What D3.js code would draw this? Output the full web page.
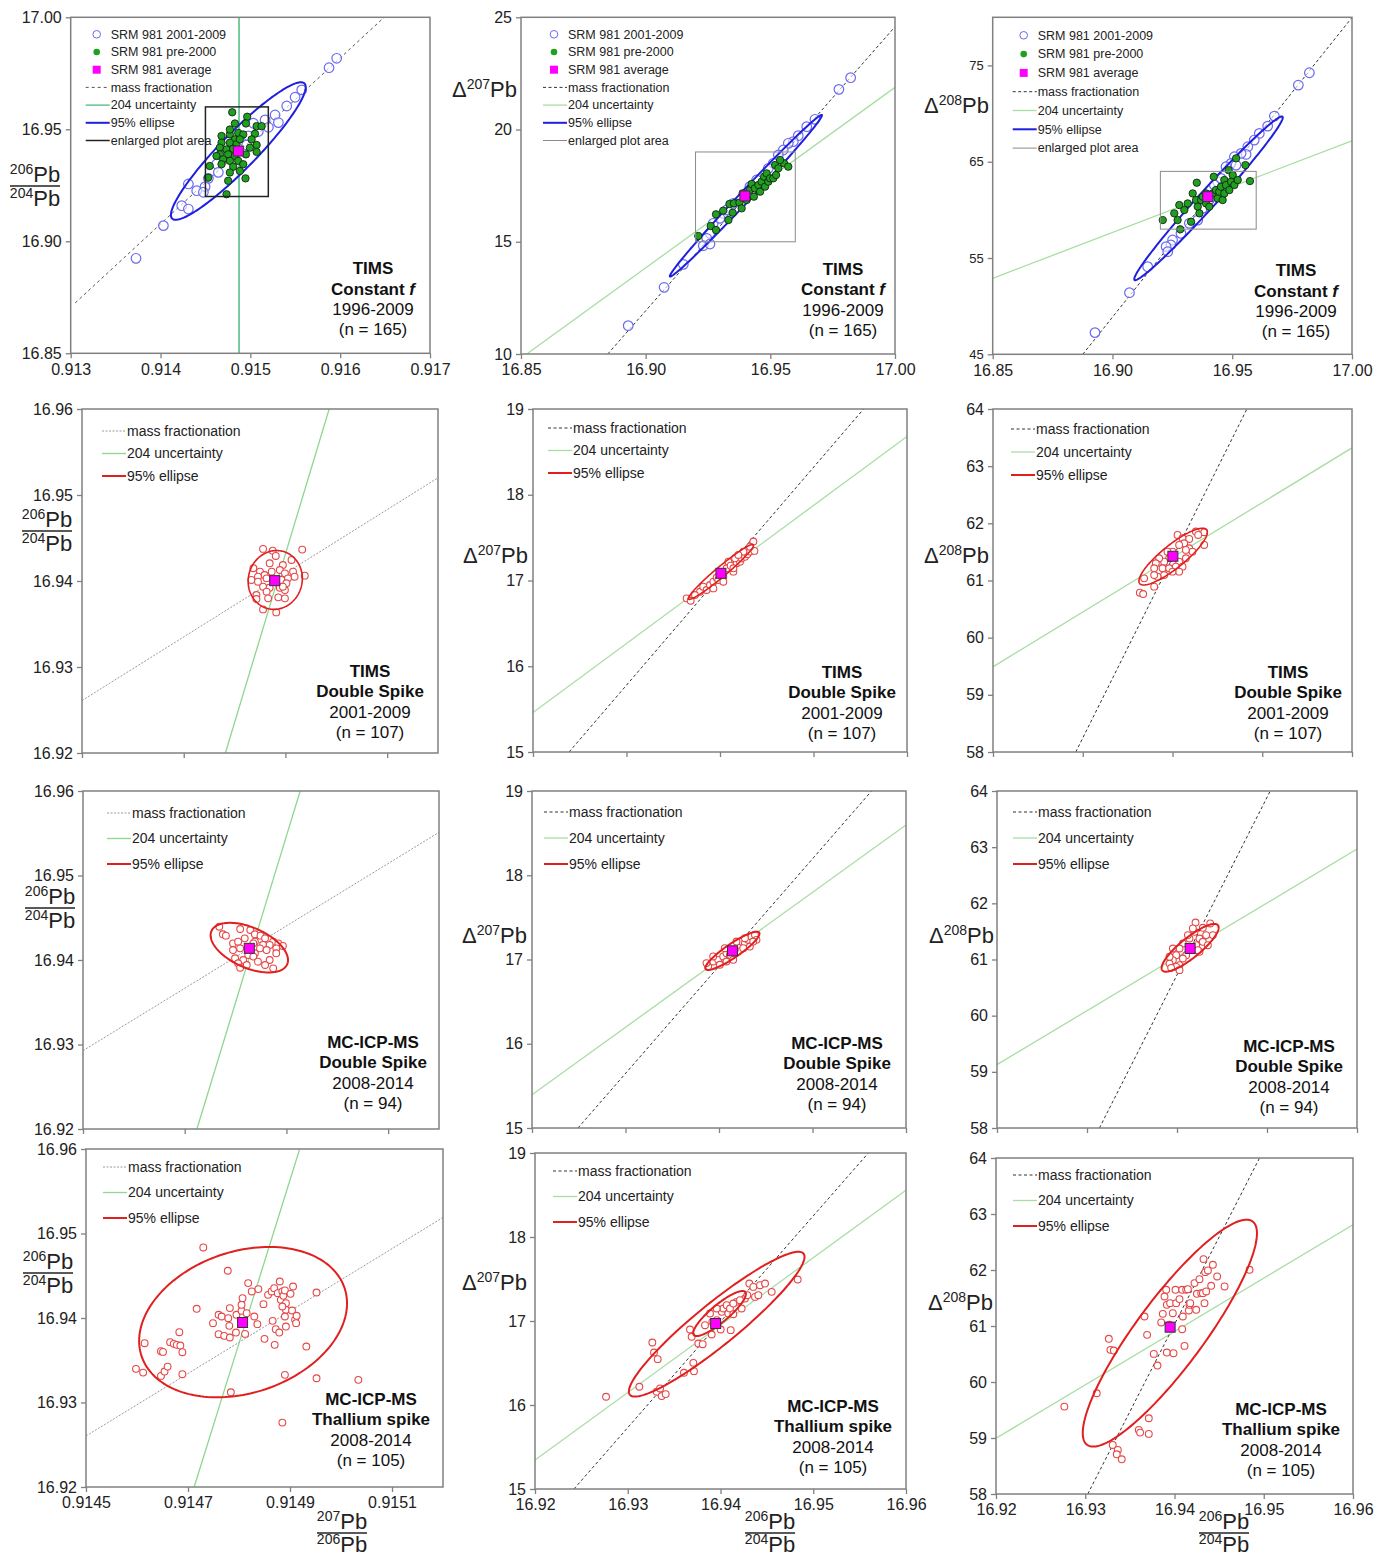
<!DOCTYPE html>
<html>
<head>
<meta charset="utf-8">
<title>SRM 981 Pb isotope panels</title>
<script src="https://d3js.org/d3.v7.min.js"></script>
<style>
    body { margin: 0; background: #fff; }
    svg { font-family: "Liberation Sans", Arial, sans-serif; }
    .frame { fill: none; stroke: #808080; stroke-width: 1.5px; }
</style>
</head>
<body>
<script>
    // ---------- axis domains and ticks ----------
    var ratioDomainTop = [0.913, 0.917], pb64DomainTop = [16.85, 17.00];
    var d207DomainTop = [10, 25], d208DomainTop = [45, 80];
    var ratioDomain = [0.9145, 0.9152], pb64Domain = [16.92, 16.96];
    var d207Domain = [15, 19], d208Domain = [58, 64];

    var ratioTicksTop = [0.913, 0.914, 0.915, 0.916, 0.917];
    var pb64TicksTop = [16.85, 16.90, 16.95, 17.00];
    var d207TicksTop = [10, 15, 20, 25];
    var d208TicksTop = [45, 55, 65, 75];
    var ratioTicks = [0.9145, 0.9147, 0.9149, 0.9151];
    var pb64Ticks = [16.92, 16.93, 16.94, 16.95, 16.96];
    var d207Ticks = [15, 16, 17, 18, 19];
    var d208Ticks = [58, 59, 60, 61, 62, 63, 64];

    // ---------- text ----------
    var legendTop = ["SRM 981 2001-2009", "SRM 981 pre-2000", "SRM 981 average", "mass fractionation",
        "204 uncertainty", "95% ellipse", "enlarged plot area"];
    var legendZoom = ["mass fractionation", "204 uncertainty", "95% ellipse"];
    var methods = [
        ["TIMS", "Constant ", "1996-2009", "(n = 165)"],
        ["TIMS", "Double Spike", "2001-2009", "(n = 107)"],
        ["MC-ICP-MS", "Double Spike", "2008-2014", "(n = 94)"],
        ["MC-ICP-MS", "Thallium spike", "2008-2014", "(n = 105)"]
    ];

    // ---------- row 1: TIMS constant f ----------
    var p1Blue = [[0.915961,16.9817],[0.915876,16.9775],[0.915572,16.9676],[0.915498,16.9643],[0.915405,16.9604],
        [0.915275,16.9564],[0.915312,16.953],[0.915164,16.9542],[0.915201,16.9509],[0.915034,16.9527],[0.914978,16.947],
        [0.914959,16.943],[0.914625,16.9345],[0.914644,16.9308],[0.914533,16.9281],[0.914496,16.9244],[0.914403,16.9226],
        [0.914477,16.9219],[0.91431,16.9256],[0.914236,16.9159],[0.91431,16.9144],[0.914032,16.907],[0.913727,16.8924],
        [0.914737,16.9378],[0.914811,16.9415],[0.915089,16.949]];
    var p1Green = [[0.914798,16.9576],[0.914965,16.9556],[0.914828,16.9526],[0.914951,16.9526],[0.91507,16.9514],
        [0.915125,16.9514],[0.914679,16.947],[0.914772,16.9477],[0.914865,16.9484],[0.914828,16.9455],[0.914921,16.9477],
        [0.915051,16.948],[0.915014,16.9455],[0.914679,16.944],[0.914772,16.944],[0.914846,16.9433],[0.91507,16.943],
        [0.91466,16.9418],[0.914735,16.941],[0.914809,16.9413],[0.914995,16.9418],[0.91507,16.9399],[0.91466,16.9388],
        [0.914753,16.9388],[0.914828,16.9381],[0.914951,16.9388],[0.914697,16.9366],[0.914772,16.9359],[0.914865,16.9359],
        [0.914921,16.9344],[0.914548,16.9336],[0.914679,16.9344],[0.914809,16.9333],[0.914772,16.9307],[0.914883,16.9314],
        [0.91453,16.9284],[0.914753,16.927],[0.914946,16.9281],[0.914735,16.921],[0.914772,16.9499],[0.914883,16.9455],
        [0.914623,16.9381]];
    var p2Blue = [[16.9822,22.31],[16.9775,21.79],[16.9679,20.455],[16.9646,20.128],[16.9612,19.727],[16.9592,19.46],
        [16.9572,19.386],[16.9552,19.089],[16.9532,18.866],[16.9512,18.495],[16.9492,18.272],[16.9445,17.752],
        [16.9418,17.455],[16.9352,16.712],[16.9312,16.267],[16.9271,15.822],[16.9258,15.376],[16.9245,15.153],
        [16.9231,14.826],[16.9258,14.901],[16.9151,13.995],[16.9074,12.97],[16.893,11.262],[16.9298,16.044],
        [16.9325,16.416]];
    var p2Green = [[16.9211,15.257],[16.9261,15.703],[16.9282,16.223],[16.9282,15.525],[16.9311,16.386],[16.9332,15.97],
        [16.9336,16.683],[16.9349,16.297],[16.9354,16.713],[16.9376,16.742],[16.9385,16.49],[16.9389,17.158],
        [16.9405,16.861],[16.9418,17.307],[16.9425,17.574],[16.9434,17.01],[16.9438,17.381],[16.9452,17.529],
        [16.9459,17.232],[16.9465,17.678],[16.9475,17.901],[16.9485,18.049],[16.9479,17.455],[16.9492,17.678],
        [16.9499,17.827],[16.9512,17.827],[16.9523,17.975],[16.9519,18.421],[16.9532,18.272],[16.9555,18.495],
        [16.9572,18.346],[16.9539,18.643]];
    var p3Blue = [[16.9822,74.24],[16.9776,72.96],[16.9676,69.74],[16.9648,68.7],[16.9613,67.94],[16.9592,67.25],
        [16.9565,66.56],[16.9558,65.76],[16.9537,65.87],[16.9509,65.52],[16.9495,64.83],[16.9516,64.65],[16.9474,64.48],
        [16.9439,62.92],[16.9453,63.27],[16.9425,62.58],[16.9356,58.94],[16.9321,58.6],[16.9286,57.56],[16.9251,56.87],
        [16.9244,56.35],[16.9224,56.18],[16.9231,55.66],[16.9147,54.1],[16.9071,51.4],[16.8927,47.25],[16.9377,60.16],
        [16.9404,61.02]];
    var p3Green = [[16.921,58.94],[16.9258,59.64],[16.9272,58.94],[16.9283,57.98],[16.9279,60.5],[16.93,59.98],
        [16.9314,60.67],[16.9335,61.71],[16.9352,62.82],[16.9349,61.02],[16.9356,60.33],[16.937,61.02],[16.9363,59.64],
        [16.9377,61.37],[16.9391,60.67],[16.9404,60.33],[16.9418,61.71],[16.9423,63.44],[16.9432,62.06],[16.9439,61.19],
        [16.9446,61.89],[16.9453,62.4],[16.946,61.02],[16.9467,61.71],[16.9467,63.1],[16.9474,62.58],[16.9485,64.13],
        [16.9488,62.06],[16.9495,62.92],[16.9502,63.62],[16.9509,62.58],[16.9516,65.35],[16.9523,63.1],[16.9555,64.65],
        [16.9574,62.99],[16.9328,58.77],[16.9391,61.71]];

    // ---------- rows 2-4: enlarged plot areas ----------
    var p4Pts = [[0.914856,16.94373],[0.914875,16.94353],[0.914881,16.94291],[0.914933,16.94365],[0.914869,16.94206],
        [0.914895,16.94186],[0.914912,16.94245],[0.914837,16.94148],[0.91485,16.94109],[0.914859,16.9407],
        [0.914873,16.94109],[0.914889,16.94128],[0.914899,16.94089],[0.914915,16.94109],[0.914918,16.9405],
        [0.914938,16.94062],[0.914833,16.94012],[0.914846,16.9405],[0.914863,16.94031],[0.914892,16.94012],
        [0.914905,16.94031],[0.914902,16.93973],[0.914856,16.93934],[0.914869,16.93922],[0.914889,16.93922],
        [0.914899,16.93895],[0.914863,16.93876],[0.914843,16.93837],[0.914843,16.9379],[0.914866,16.93798],
        [0.914886,16.9381],[0.914899,16.93798],[0.914856,16.9367],[0.914882,16.93635],[0.914895,16.93934],
        [0.914846,16.93992]];
    var p5Pts = [[16.93643,16.792],[16.93686,16.764],[16.93786,16.869],[16.93821,16.928],[16.93857,16.889],
        [16.93893,16.947],[16.93929,16.986],[16.93964,17.033],[16.93982,17.006],[16.94036,17.045],[16.94071,17.142],
        [16.94089,17.22],[16.94114,17.173],[16.94143,17.103],[16.94179,17.201],[16.94214,17.22],[16.94232,17.259],
        [16.94268,17.278],[16.94293,17.306],[16.94321,17.337],[16.94357,17.454],[16.94368,17.345],[16.94321,17.395],
        [16.9425,17.337],[16.94161,17.259],[16.94036,16.986],[16.93929,16.908],[16.93732,16.831],[16.94143,17.142],
        [16.94196,17.298]];
    var p6Pts = [[16.94056,61.797],[16.94112,61.739],[16.9426,61.856],[16.94353,61.844],[16.94286,61.797],
        [16.94186,61.727],[16.9413,61.651],[16.94074,61.622],[16.94186,61.564],[16.94223,61.505],[16.94149,61.389],
        [16.94074,61.33],[16.94,61.505],[16.93963,61.389],[16.93907,61.33],[16.93851,61.389],[16.93814,61.301],
        [16.93796,61.213],[16.93889,61.213],[16.93963,61.213],[16.94037,61.242],[16.94112,61.242],[16.94074,61.155],
        [16.94,61.155],[16.93907,61.096],[16.93833,61.067],[16.93796,61.096],[16.93684,61.038],[16.93796,60.892],
        [16.93636,60.787],[16.93673,60.763],[16.94353,61.622],[16.94149,61.535],[16.93944,61.505]];
    var p7Pts = [[0.914768,16.94394],[0.914775,16.94304],[0.914781,16.94288],[0.914809,16.94367],[0.914829,16.94355],
        [0.914838,16.94304],[0.914849,16.94288],[0.914858,16.94256],[0.914874,16.94217],[0.914884,16.94197],
        [0.914893,16.94166],[0.914795,16.94197],[0.914805,16.94217],[0.914818,16.94256],[0.914838,16.94217],
        [0.914854,16.94178],[0.914867,16.94178],[0.914795,16.94118],[0.914809,16.94138],[0.914825,16.94059],
        [0.914838,16.94079],[0.914848,16.94138],[0.914861,16.94118],[0.91488,16.94138],[0.91488,16.94079],
        [0.914799,16.9402],[0.914815,16.94],[0.914835,16.9404],[0.914805,16.93961],[0.914822,16.93941],
        [0.914844,16.9398],[0.914867,16.94],[0.914858,16.93941],[0.914874,16.93901],[0.914809,16.93909],
        [0.914835,16.94197]];
    var p8Pts = [[16.93884,16.917],[16.93938,16.976],[16.93991,16.996],[16.94045,17.036],[16.9408,17.075],
        [16.94116,17.055],[16.94169,17.115],[16.94205,17.174],[16.94241,17.213],[16.94277,17.194],[16.94312,17.233],
        [16.94348,17.273],[16.94384,17.293],[16.94401,17.233],[16.9433,17.154],[16.94259,17.134],[16.94187,17.213],
        [16.94152,16.996],[16.93938,17.036],[16.93866,16.957],[16.94009,16.937],[16.9408,16.976],[16.94277,17.253],
        [16.94366,17.213],[16.94062,17.134]];
    var p9Pts = [[16.94206,61.659],[16.94369,61.642],[16.94287,61.564],[16.94195,61.493],[16.94324,61.434],
        [16.94399,61.434],[16.9425,61.374],[16.94139,61.374],[16.94287,61.315],[16.94343,61.255],[16.94065,61.285],
        [16.94213,61.255],[16.94028,61.196],[16.93954,61.196],[16.9425,61.137],[16.94102,61.077],[16.93991,61.077],
        [16.94065,61.018],[16.93954,60.988],[16.93917,60.929],[16.94028,60.899],[16.93991,60.869],[16.93935,60.851],
        [16.94028,60.81],[16.94176,61.553],[16.94121,61.434],[16.94232,61.166],[16.93917,61.048]];
    var p10Pts = [[0.914598,16.93398],[0.914612,16.93354],[0.914615,16.93702],[0.914647,16.93607],[0.914651,16.93599],
        [0.914647,16.93315],[0.914654,16.93366],[0.91466,16.93425],[0.914665,16.93714],[0.914672,16.93694],
        [0.914678,16.93682],[0.914683,16.93832],[0.914685,16.93674],[0.914689,16.93595],[0.914689,16.93335],
        [0.914717,16.94109],[0.91473,16.94835],[0.914749,16.93939],[0.91476,16.94038],[0.91476,16.93808],
        [0.914766,16.94018],[0.914771,16.93789],[0.914778,16.94559],[0.914782,16.94117],[0.914779,16.93998],
        [0.914781,16.93907],[0.914782,16.93769],[0.914784,16.93121],[0.914794,16.93828],[0.914795,16.94038],
        [0.914805,16.94085],[0.914805,16.94156],[0.914807,16.94235],[0.914812,16.93812],[0.914815,16.94057],
        [0.914818,16.94413],[0.914825,16.94314],[0.91483,16.94018],[0.914836,16.93927],[0.914838,16.94342],
        [0.914848,16.94164],[0.91485,16.93753],[0.914857,16.94274],[0.914864,16.94314],[0.914869,16.94353],
        [0.914866,16.93966],[0.91487,16.93682],[0.914872,16.93868],[0.914876,16.94294],[0.914879,16.93828],
        [0.914882,16.94215],[0.914885,16.94314],[0.914887,16.94263],[0.91489,16.94326],[0.914892,16.94176],
        [0.914892,16.94097],[0.91489,16.94018],[0.914892,16.93899],[0.91489,16.93327],[0.914901,16.94286],
        [0.914904,16.94089],[0.914906,16.94373],[0.91491,16.93978],[0.914912,16.93939],[0.914913,16.94026],
        [0.914932,16.93662],[0.914952,16.94302],[0.914952,16.93287],[0.914885,16.92762],[0.915034,16.93268],
        [0.91488,16.94432],[0.914885,16.94136]];
    var p11Pts = [[16.92766,16.098],[16.93125,16.217],[16.93265,16.744],[16.93283,16.625],[16.93323,16.546],
        [16.93312,16.158],[16.93348,16.197],[16.93366,16.106],[16.93409,16.13],[16.93606,16.384],[16.93671,16.899],
        [16.93689,16.812],[16.93707,16.502],[16.93714,16.403],[16.93761,16.732],[16.93808,16.724],[16.93833,16.95],
        [16.93905,16.839],[16.93912,16.99],[16.93959,17.01],[16.94002,16.899],[16.94013,17.109],[16.94031,17.149],
        [16.94067,17.188],[16.94084,17.089],[16.94102,17.149],[16.94138,17.081],[16.9411,16.891],[16.94174,17.228],
        [16.94228,17.149],[16.94264,17.268],[16.94289,17.307],[16.94311,17.446],[16.94354,17.406],[16.94372,17.287],
        [16.94408,17.307],[16.94426,17.426],[16.9448,17.446],[16.94552,17.347],[16.94832,17.494],[16.93959,17.149],
        [16.93887,17.089],[16.94138,17.208],[16.9421,17.248]];
    var p12Pts = [[16.92766,59.561],[16.93129,59.799],[16.93264,60.771],[16.93282,60.574],[16.9332,60.562],
        [16.93308,58.876],[16.93365,58.787],[16.93353,58.709],[16.93409,58.62],[16.936,59.144],[16.93615,59.096],
        [16.93664,61.17],[16.93693,60.842],[16.93712,59.353],[16.93712,59.073],[16.93768,60.502],[16.93809,60.294],
        [16.93851,61.063],[16.93869,61.217],[16.93907,61.646],[16.93914,61.378],[16.93914,60.526],[16.93951,61.408],
        [16.93981,61.229],[16.93989,60.514],[16.94011,61.646],[16.94019,61.408],[16.94056,61.48],[16.94086,61.646],
        [16.94086,60.943],[16.94112,60.645],[16.94131,61.646],[16.9415,61.658],[16.94161,61.277],[16.94168,61.378],
        [16.94176,61.408],[16.94224,61.766],[16.94243,61.289],[16.94251,61.575],[16.9428,61.837],[16.94299,61.587],
        [16.94318,61.587],[16.94325,62.195],[16.94336,61.408],[16.94344,61.962],[16.94355,61.617],[16.94374,61.992],
        [16.94411,61.718],[16.9443,62.093],[16.94478,61.885],[16.94561,61.706],[16.94841,62.004],[16.93944,61.021],
        [16.93888,61.527],[16.94093,61.17]];

    // SRM 981 averages, one per panel
    var averages = [[0.914866,16.9403],[16.9398,17.04],[16.9398,61.37],[0.914879,16.94004],[16.9401,17.084],
        [16.94004,61.424],[0.914827,16.94138],[16.94144,17.103],[16.94146,61.196],[0.914807,16.93947],
        [16.93948,16.97],[16.93951,60.979]];
    // 95% ellipses: [cx, cy, sx, sy, rho]
    var ellipses = [[[0.914866,16.9403,0.00075,0.0307,0.93]], [[16.9402,17.05,0.0305,3.6,0.995]],
        [[16.9401,61.2,0.031,8.5,0.987]], [[0.91488,16.94012,0.0000533,0.00342,0.05]],
        [[16.9401,17.1,0.00348,0.32,0.97]], [[16.94007,61.418,0.00381,0.497,0.86]],
        [[0.914827,16.94146,0.0000761,0.00294,-0.5]], [[16.94144,17.103,0.00289,0.227,0.9]],
        [[16.94146,61.208,0.00317,0.425,0.85]], [[0.914808,16.93951,0.0002038,0.0089,0.25]],
        [[16.93959,16.962,0.00947,0.862,0.93],[16.9399,17.089,0.00284,0.268,0.87]],
        [[16.93948,60.872,0.00976,2.026,0.88]]];
    // mass fractionation lines, two points each
    var massLines = [[[0.91305,16.8725],[0.91649,17.0]], [[16.8848,10],[17.0,24.58]], [[16.8876,45],[17.0,79.98]],
        [[0.9145,16.9261],[0.9152,16.952]], [[16.92386,15],[16.95536,19]], [[16.92922,58],[16.94829,64]],
        [[0.9145,16.92927],[0.9152,16.95511]], [[16.92492,15],[16.95632,19]], [[16.93138,58],[16.95036,64]],
        [[0.9145,16.92604],[0.9152,16.9519]], [[16.9242,15],[16.95594,19]], [[16.93028,58],[16.94953,64]]];
    // 204 uncertainty lines, two points each
    var uncLines = [[[0.914874,16.85],[0.914874,17.0]], [[16.8523,10],[17.0,21.88]], [[16.85,52.89],[17.0,67.18]],
        [[0.914782,16.92],[0.914986,16.96]], [[16.92,15.46],[16.96,18.68]], [[16.92,59.49],[16.96,63.32]],
        [[0.914724,16.92],[0.914927,16.96]], [[16.92,15.395],[16.96,18.597]], [[16.92,59.129],[16.96,62.966]],
        [[0.914712,16.92],[0.914919,16.96]], [[16.92,15.345],[16.96,18.556]], [[16.92,58.995],[16.96,62.808]]];

    // ---------- layout ----------
    var boxes = [[70.7,17.3,430,353.3],[521,17.3,895,354],[992.7,17.3,1352,354.3],
        [82,409,438,753],[533,409,907,752],[993,409,1352,752],
        [83,791,439,1129],[532,791,906,1128],[997,791,1357,1128],
        [86,1149,443,1487],[535,1153,906,1489],[996,1158,1353,1494]];
    // legend: [line start dx, first row dy, row spacing]
    var legendPos = [[15,17,17.7],[22,17,17.7],[20,18,18.8],[20,22,22.5],[15,19,22.5],[18,20,23],
        [24,22,25.5],[12,21,26],[16,21,26],[17,18,25.5],[18,18,25.5],[17,17,25.5]];
    var noteOffset = [[-57,-85],[-52,-85],[-56,-84],[-68,-82],[-65,-80],[-64,-80],[-66,-87],[-69,-85],
        [-68,-82],[-72,-88],[-73,-83],[-72,-85]];
    var yLabelPos = [[35,186],[517,97],[989,113],[47,531],[528,563],[989,563],[50,908],[527,943],[994,943],
        [48,1273],[527,1290],[993,1310]];
    var xLabelPos = [[342,1533],[770,1533],[1224,1533]];

    var cols = [
        {top: [ratioDomainTop, pb64DomainTop, ratioTicksTop, pb64TicksTop, ".3f", ".2f"],
         zoom: [ratioDomain, pb64Domain, ratioTicks, pb64Ticks, ".4f", ".2f"], yl: "frac", yNum: "206", yDen: "204"},
        {top: [pb64DomainTop, d207DomainTop, pb64TicksTop, d207TicksTop, ".2f", "d"],
         zoom: [pb64Domain, d207Domain, pb64Ticks, d207Ticks, ".2f", "d"], yl: "delta", yIso: "207"},
        {top: [pb64DomainTop, d208DomainTop, pb64TicksTop, d208TicksTop, ".2f", "d"],
         zoom: [pb64Domain, d208Domain, pb64Ticks, d208Ticks, ".2f", "d"], yl: "delta", yIso: "208"}
    ];
    var zoomPts = [p4Pts, p5Pts, p6Pts, p7Pts, p8Pts, p9Pts, p10Pts, p11Pts, p12Pts];
    var topPts = [[p1Blue, p1Green], [p2Blue, p2Green], [p3Blue, p3Green]];

    var svg = d3.select("body").append("svg")
        .attr("width", 1376)
        .attr("height", 1562);
    svg.append("rect").attr("width", 1376).attr("height", 1562).attr("fill", "#fff");
    var defs = svg.append("defs");

    function ellipsePoints(e) {
        return d3.range(0, 361, 2).map(function(a) {
            var t = a * Math.PI / 180;
            return [e[0] + e[2] * Math.cos(t),
                    e[1] + e[3] * (e[4] * Math.cos(t) + Math.sqrt(1 - e[4] * e[4]) * Math.sin(t))];
        });
    }

    function drawFraction(g, cx, ly, num, den, gap) {
        g.append("line").attr("x1", cx - 25).attr("x2", cx + 25).attr("y1", ly).attr("y2", ly)
            .attr("stroke", "#222").attr("stroke-width", 1.5);
        [[num, ly - 4], [den, ly + (gap || 20)]].forEach(function(p) {
            var t = g.append("text").attr("x", cx).attr("y", p[1]).attr("text-anchor", "middle").attr("fill", "#222");
            t.append("tspan").attr("font-size", 14).attr("dy", -8).text(p[0]);
            t.append("tspan").attr("font-size", 22).attr("dy", 8).text("Pb");
        });
    }

    function drawDelta(g, x, y, iso) {
        var t = g.append("text").attr("x", x).attr("y", y).attr("text-anchor", "end").attr("fill", "#222");
        t.append("tspan").attr("font-size", 22).text("\u0394");
        t.append("tspan").attr("font-size", 14).attr("dy", -8).text(iso);
        t.append("tspan").attr("font-size", 22).attr("dy", 8).text("Pb");
    }

    d3.range(12).forEach(function(i) {
        var row = Math.floor(i / 3), col = i % 3, c = cols[col];
        var isTop = row === 0;
        var spec = isTop ? c.top : c.zoom;
        var L = boxes[i][0], T = boxes[i][1], R = boxes[i][2], B = boxes[i][3];
        var x = d3.scaleLinear().domain(spec[0]).range([L, R]);
        var y = d3.scaleLinear().domain(spec[1]).range([B, T]);
        var g = svg.append("g");

        defs.append("clipPath").attr("id", "clip" + i)
            .append("rect").attr("x", L).attr("y", T).attr("width", R - L).attr("height", B - T);
        var plot = g.append("g").attr("clip-path", "url(#clip" + i + ")");
        var line = d3.line().x(function(d) { return x(d[0]); }).y(function(d) { return y(d[1]); });

        // line styles
        var massStyle = (col === 0 && !isTop) ? {c: "#9a9a9a", d: "2,1.5"} :
                        (i === 0 ? {c: "#555", d: "3,3"} : {c: "#333", d: "3,2.5"});
        var uncColor = i === 0 ? "#4cbb7f" : (col === 0 ? "#8fd68f" : "#a8dea2");
        var ellColor = isTop ? "#1f1fe0" : "#e01f1f";
        var ellWidth = row === 1 ? 1.6 : 2;

        plot.append("path").attr("d", line(uncLines[i])).attr("fill", "none")
            .attr("stroke", uncColor).attr("stroke-width", i === 0 ? 1.5 : 1.3);
        plot.append("path").attr("d", line(massLines[i])).attr("fill", "none")
            .attr("stroke", massStyle.c).attr("stroke-width", 1).attr("stroke-dasharray", massStyle.d);

        if (isTop) {
            plot.append("g").selectAll("circle").data(topPts[col][0]).enter().append("circle")
                .attr("cx", function(d) { return x(d[0]); })
                .attr("cy", function(d) { return y(d[1]); })
                .attr("r", 4.8).attr("fill", "#fff").attr("fill-opacity", 0.6)
                .attr("stroke", "#6a6af2").attr("stroke-width", 1.2);
            ellipses[i].forEach(function(e) {
                plot.append("path").attr("d", line(ellipsePoints(e)) + "Z").attr("fill", "none")
                    .attr("stroke", ellColor).attr("stroke-width", ellWidth);
            });
            plot.append("g").selectAll("circle").data(topPts[col][1]).enter().append("circle")
                .attr("cx", function(d) { return x(d[0]); })
                .attr("cy", function(d) { return y(d[1]); })
                .attr("r", 3.7).attr("fill", "#1fa01f").attr("stroke", "#111").attr("stroke-width", 0.8);
            // enlarged plot area
            var ez = c.zoom;
            plot.append("rect")
                .attr("x", x(ez[0][0])).attr("y", y(ez[1][1]))
                .attr("width", x(ez[0][1]) - x(ez[0][0])).attr("height", y(ez[1][0]) - y(ez[1][1]))
                .attr("fill", "none").attr("stroke", i === 0 ? "#222" : "#8a8a8a")
                .attr("stroke-width", i === 0 ? 1.5 : 1);
        } else {
            plot.append("g").selectAll("circle").data(zoomPts[i - 3]).enter().append("circle")
                .attr("cx", function(d) { return x(d[0]); })
                .attr("cy", function(d) { return y(d[1]); })
                .attr("r", 3.4).attr("fill", "#fff").attr("stroke", "#e54848").attr("stroke-width", 1.1);
            ellipses[i].forEach(function(e) {
                plot.append("path").attr("d", line(ellipsePoints(e)) + "Z").attr("fill", "none")
                    .attr("stroke", ellColor).attr("stroke-width", ellWidth);
            });
        }

        // average
        plot.append("rect")
            .attr("x", x(averages[i][0]) - 5).attr("y", y(averages[i][1]) - 5)
            .attr("width", 10).attr("height", 10)
            .attr("fill", "#ff00ff").attr("stroke", "#333").attr("stroke-width", 1);

        // frame and axes
        g.append("rect").attr("class", "frame").attr("x", L).attr("y", T).attr("width", R - L).attr("height", B - T);

        var showX = isTop || row === 3;
        var xAxis = d3.axisBottom(x).tickValues(spec[2]).tickSize(5).tickPadding(5)
            .tickFormat(showX ? d3.format(spec[4]) : function() { return ""; });
        var yAxis = d3.axisLeft(y).tickValues(spec[3]).tickSize(5).tickPadding(4)
            .tickFormat(d3.format(spec[5]));
        [[xAxis, "translate(0," + B + ")"], [yAxis, "translate(" + L + ",0)"]].forEach(function(a) {
            var ag = g.append("g").attr("transform", a[1]).call(a[0]);
            ag.select(".domain").remove();
            ag.attr("font-family", null).attr("font-size", null);
            ag.selectAll(".tick line").attr("stroke", "#808080").attr("stroke-width", 1.3);
            ag.selectAll(".tick text").attr("fill", "#222").attr("font-size", (i === 2 && a[0] === yAxis) ? 13 : 16);
        });

        // legend
        var lp = legendPos[i], lx = L + lp[0];
        var labels = isTop ? legendTop : legendZoom;
        var lg = g.append("g").attr("font-size", isTop ? 12.5 : 14).attr("fill", "#222");
        labels.forEach(function(lab, k) {
            var ly = T + lp[1] + k * lp[2];
            var kind = isTop ? k : k + 3;
            if (kind === 0) {
                lg.append("circle").attr("cx", lx + 11).attr("cy", ly).attr("r", 3.8)
                    .attr("fill", "none").attr("stroke", "#6a6af2").attr("stroke-width", 1);
            } else if (kind === 1) {
                lg.append("circle").attr("cx", lx + 11).attr("cy", ly).attr("r", 3.3)
                    .attr("fill", "#1fa01f");
            } else if (kind === 2) {
                lg.append("rect").attr("x", lx + 7).attr("y", ly - 4).attr("width", 8).attr("height", 8)
                    .attr("fill", "#ff00ff");
            } else {
                var st = kind === 3 ? {c: massStyle.c, d: massStyle.d, w: 1} :
                         kind === 4 ? {c: uncColor, d: null, w: 1.3} :
                         kind === 5 ? {c: ellColor, d: null, w: 2} :
                         {c: i === 0 ? "#222" : "#8a8a8a", d: null, w: i === 0 ? 1.5 : 1};
                lg.append("line").attr("x1", lx).attr("x2", lx + 24).attr("y1", ly).attr("y2", ly)
                    .attr("stroke", st.c).attr("stroke-width", st.w).attr("stroke-dasharray", st.d);
            }
            lg.append("text").attr("x", lx + 25).attr("y", ly).attr("dy", "0.35em").text(lab);
        });

        // method note
        var m = methods[row], no = noteOffset[i];
        var nx = R + no[0], ny = B + no[1];
        var note = g.append("g").attr("text-anchor", "middle").attr("font-size", 17).attr("fill", "#111");
        m.forEach(function(s, k) {
            var t = note.append("text").attr("x", nx).attr("y", ny + k * 20.3).attr("dy", "0.35em")
                .attr("font-weight", k < 2 ? "bold" : null);
            t.append("tspan").text(s);
            if (row === 0 && k === 1) t.append("tspan").attr("font-style", "italic").text("f");
        });

        // axis titles
        var yp = yLabelPos[i];
        if (c.yl === "frac") drawFraction(g, yp[0], yp[1], c.yNum, c.yDen);
        else drawDelta(g, yp[0], yp[1], c.yIso);
        if (row === 3) {
            var xp = xLabelPos[col];
            if (col === 0) drawFraction(g, xp[0], xp[1], "207", "206", 19);
            else drawFraction(g, xp[0], xp[1], "206", "204", 19);
        }
    });
</script>
</body>
</html>
